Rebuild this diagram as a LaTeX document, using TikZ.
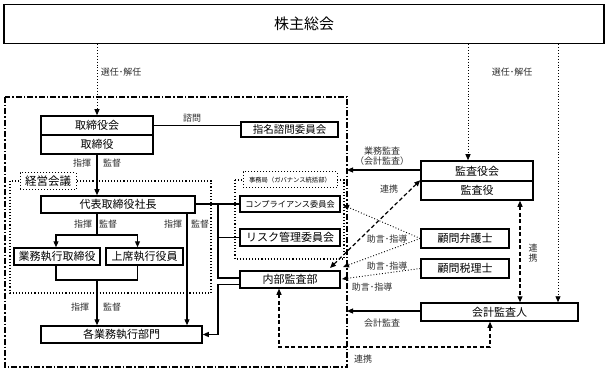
\documentclass[tikz,border=0pt]{standalone}
\usepackage{fontspec}
\setmainfont{Noto Sans CJK JP}
\usetikzlibrary{arrows.meta,positioning,calc}
\definecolor{InkGray}{RGB}{45,45,45}
\newcommand{\boxfont}{\fontsize{11}{12}\selectfont}
\newcommand{\lblfont}{\fontsize{9}{10}\selectfont}

\begin{document}
\begin{tikzpicture}[x=1pt,y=-1pt,
  orgbox/.style={draw,line width=1.5pt,fill=white,inner sep=0pt,font=\boxfont},
  tag/.style={draw,dotted,line width=1pt,fill=white,inner sep=0pt},
  cmd/.style={-{Triangle[length=6pt,width=5pt]},line width=1.1pt},
  wire/.style={line width=1.1pt},
  elect/.style={-{Triangle[length=6pt,width=5pt]},dotted,line width=0.9pt},
  link/.style={{Triangle[length=6pt,width=5pt]}-{Triangle[length=6pt,width=5pt]},
               dash pattern=on 4pt off 2.5pt,line width=1.2pt},
  annot/.style={font=\lblfont,text=InkGray,inner sep=1pt},
  groupframe/.style={dotted,line width=1.1pt},
  execframe/.style={line width=1.7pt,dash pattern=on 6pt off 2pt on 1.5pt off 2pt},
]
\useasboundingbox (0,0) rectangle (609,371);

%% Shareholders
\node[orgbox,minimum width=600pt,minimum height=39pt,font=\fontsize{15}{16}\selectfont]
  (shu) at (304,24) {株主総会};

%% Frames
\draw[execframe] (5,97) rectangle (347,367);
\draw[groupframe] (10,181) rectangle (211,293);
\node[tag,minimum width=56pt,minimum height=17pt,font=\fontsize{11.5}{12}\selectfont]
  (keiei) at (48,181.5) {経営会議};
\draw[groupframe] (235,180) rectangle (344,259);
\node[tag,minimum width=94pt,minimum height=16pt,font=\fontsize{6.3}{7}\selectfont]
  (jimu) at (290,180) {事務局（ガバナンス統括部）};

%% Board and executives
\node[orgbox,minimum width=112pt,minimum height=19pt] (tbk) at (97,125.5) {取締役会};
\node[orgbox,minimum width=112pt,minimum height=19pt] (tby) at (97,144.5) {取締役};
\node[orgbox,minimum width=97pt,minimum height=15pt,font=\fontsize{10.5}{11}\selectfont]
  (shimei) at (289.5,129.5) {指名諮問委員会};
\node[orgbox,minimum width=154pt,minimum height=17pt] (ceo) at (118,204.5) {代表取締役社長};
\node[orgbox,minimum width=86pt,minimum height=17pt]  (gyo) at (57,256.5) {業務執行取締役};
\node[orgbox,minimum width=77pt,minimum height=17pt]  (jos) at (144.5,256.5) {上席執行役員};
\node[orgbox,minimum width=161pt,minimum height=17pt] (bumon) at (121.5,334.5) {各業務執行部門};

%% Committees and internal audit
\node[orgbox,minimum width=100pt,minimum height=16pt,font=\fontsize{8.2}{9}\selectfont]
  (comp) at (290,204) {コンプライアンス委員会};
\node[orgbox,minimum width=100pt,minimum height=17pt] (risk) at (290,237.5) {リスク管理委員会};
\node[orgbox,minimum width=100pt,minimum height=17pt] (naibu) at (290,279.5) {内部監査部};

%% Auditors and advisors
\node[orgbox,minimum width=112pt,minimum height=20pt] (kansakai) at (477,171) {監査役会};
\node[orgbox,minimum width=112pt,minimum height=19pt] (kansayaku) at (477,190.5) {監査役};
\node[orgbox,minimum width=88pt,minimum height=19pt]  (bengo) at (465,238.5) {顧問弁護士};
\node[orgbox,minimum width=88pt,minimum height=19pt]  (zeiri) at (465,268.5) {顧問税理士};
\node[orgbox,minimum width=157pt,minimum height=18pt] (kaikei) at (499.5,312) {会計監査人};

%% Helper coordinates
\coordinate (colK) at (468,0);
\coordinate (colA) at (558,0);
\coordinate (colR) at (187,0);
\coordinate (trunk) at (218,204);
\coordinate (splitA) at (97,235);
\coordinate (mergeA) at (97,280);
\coordinate (edgeA) at (347,170);
\coordinate (edgeB) at (347,311);
\coordinate (lnkA) at (330,268);
\coordinate (advA) at (343,205);
\coordinate (advB) at (343,267);
\coordinate (advC) at (342,279);
\coordinate (colL) at (520,0);

%% Elections
\draw[elect] (shu.south -| tbk.north) -- (tbk.north);
\node[annot] (elect1) at (121,72) {選任･解任};
\draw[elect] (shu.south -| colK) -- (kansakai.north -| colK);
\node[annot] (elect2) at (512,72) {選任･解任};
\draw[elect] (shu.south -| colA) -- (kaikei.north -| colA);

%% Consultation
\draw[wire] (tbk.east) -- (tbk.east -| shimei.west);
\node[annot] (shimon) at (192,118) {諮問};

%% Command lines
\draw[cmd] (tby.south) -- (ceo.north -| tby.south);
\node[annot] at (82,163) {指揮};
\node[annot] at (112,163) {監督};
\draw[wire] (ceo.south -| splitA) -- (splitA);
\draw[cmd] (splitA) -| ($(gyo.north)+(-1,0)$);
\draw[cmd] (splitA) -| ($(jos.north)+(-7,0)$);
\node[annot] at (83,224) {指揮};
\node[annot] at (108,224) {監督};
\draw[cmd] (ceo.south -| colR) -- (bumon.north -| colR);
\node[annot] at (173,224) {指揮};
\node[annot] at (200,224) {監督};
\draw[wire] ($(gyo.south)+(-1,0)$) |- (mergeA) -| ($(jos.south)+(-7,0)$);
\draw[cmd] (mergeA) -- (bumon.north -| mergeA);
\node[annot] at (80,307) {指揮};
\node[annot] at (112,307) {監督};

%% Committee trunk
\draw[wire] (ceo.east |- trunk) -- (comp.west);
\draw[wire] (trunk) |- ($(naibu.west)+(0,-1.5)$);
\draw[wire] (trunk |- risk.west) -- (risk.west);
\draw[cmd] ($(naibu.west)+(0,5)$) -| (trunk |- bumon.east) -- (bumon.east);

%% Audits
\draw[cmd] (kansakai.west |- edgeA) -- (edgeA);
\node[annot,align=center] at (382,156) {業務監査\\（会計監査）};
\draw[link] (lnkA) -- (kansayaku.north west);
\node[annot] at (389,189) {連携};
\draw[link] (kansayaku.south -| colL) -- (kaikei.north -| colL);
\node[annot,align=center] at (533,253) {連\\携};
\draw[cmd] (kaikei.west |- edgeB) -- (edgeB);
\node[annot] at (382,323) {会計監査};
\draw[link] ($(naibu.south)+(-11,0)$) |- (490,347) -- ($(kaikei.south)+(-9.5,0)$);
\node[annot] at (363,359) {連携};

%% Advice
\draw[elect] (bengo.west) -- (advA);
\draw[elect] (bengo.west) -- (advB);
\node[annot] at (387,239) {助言･指導};
\draw[elect] (zeiri.west) -- (advC);
\node[annot] at (387,266) {助言･指導};
\node[annot] at (372,287) {助言･指導};
\end{tikzpicture}
\end{document}
